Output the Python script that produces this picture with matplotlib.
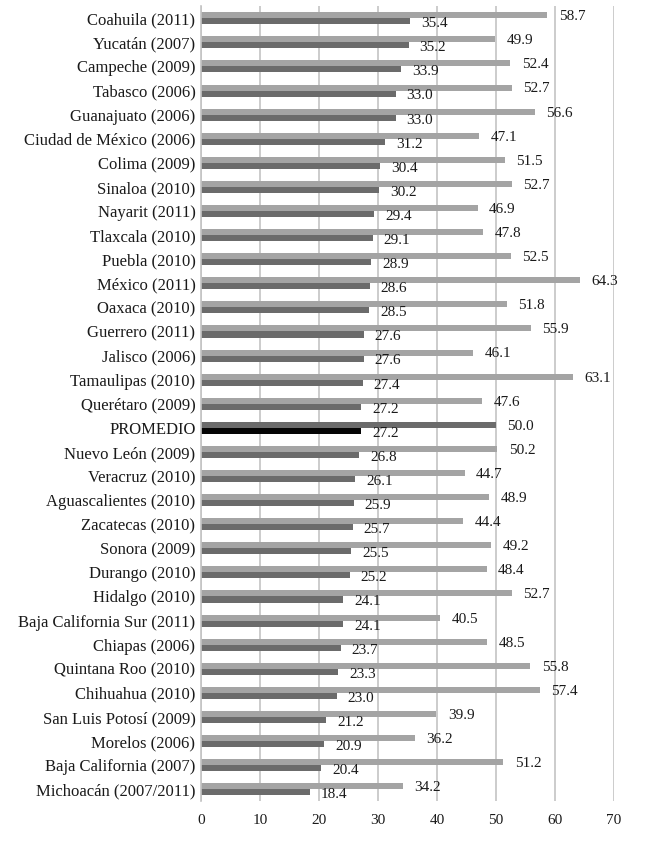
import matplotlib
matplotlib.use('Agg')

import numpy as np
import matplotlib.pyplot as plt

states = ["Coahuila (2011)", "Yucatán (2007)", "Campeche (2009)", "Tabasco (2006)",
          "Guanajuato (2006)", "Ciudad de México (2006)", "Colima (2009)", "Sinaloa (2010)",
          "Nayarit (2011)", "Tlaxcala (2010)", "Puebla (2010)", "México (2011)",
          "Oaxaca (2010)", "Guerrero (2011)", "Jalisco (2006)", "Tamaulipas (2010)",
          "Querétaro (2009)", "PROMEDIO", "Nuevo León (2009)", "Veracruz (2010)",
          "Aguascalientes (2010)", "Zacatecas (2010)", "Sonora (2009)", "Durango (2010)",
          "Hidalgo (2010)", "Baja California Sur (2011)", "Chiapas (2006)",
          "Quintana Roo (2010)", "Chihuahua (2010)", "San Luis Potosí (2009)",
          "Morelos (2006)", "Baja California (2007)", "Michoacán (2007/2011)"]

upper_vals = [58.7, 49.9, 52.4, 52.7, 56.6, 47.1, 51.5, 52.7, 46.9, 47.8, 52.5, 64.3,
              51.8, 55.9, 46.1, 63.1, 47.6, 50.0, 50.2, 44.7, 48.9, 44.4, 49.2, 48.4,
              52.7, 40.5, 48.5, 55.8, 57.4, 39.9, 36.2, 51.2, 34.2]

lower_vals = [35.4, 35.2, 33.9, 33.0, 33.0, 31.2, 30.4, 30.2, 29.4, 29.1, 28.9, 28.6,
              28.5, 27.6, 27.6, 27.4, 27.2, 27.2, 26.8, 26.1, 25.9, 25.7, 25.5, 25.2,
              24.1, 24.1, 23.7, 23.3, 23.0, 21.2, 20.9, 20.4, 18.4]

xticks = [0, 10, 20, 30, 40, 50, 60, 70]

plt.rcParams['font.family'] = ['Liberation Serif', 'DejaVu Serif']

fig = plt.figure(figsize=(6.5, 8.44), dpi=100)
ax = fig.add_axes([0.3092, 0.0509, 0.6354, 0.942])

y = np.arange(len(states))
upper_colors = ['#6b6b6b' if s == 'PROMEDIO' else '#a4a4a4' for s in states]
lower_colors = ['#050505' if s == 'PROMEDIO' else '#6b6b6b' for s in states]

h = 0.25
ax.barh(y - 0.125, upper_vals, height=h, color=upper_colors, zorder=2)
ax.barh(y + 0.125, lower_vals, height=h, color=lower_colors, zorder=2)

# value labels, baseline placed just under each bar
for i in range(len(states)):
    ax.text(upper_vals[i] + 1.95, y[i] + 0.08, f"{upper_vals[i]:.1f}", va='baseline',
            ha='left', fontsize=11, color='#1a1a1a')
    ax.text(lower_vals[i] + 1.85, y[i] + 0.37, f"{lower_vals[i]:.1f}", va='baseline',
            ha='left', fontsize=11, color='#1a1a1a')

ax.set_xlim(0, 70)
ax.set_ylim(32.49, -0.51)
ax.set_xticks(xticks)
ax.set_yticks(y)
ax.set_yticklabels(states, fontsize=12)
ax.tick_params(axis='both', length=0, colors='#1a1a1a')
ax.tick_params(axis='x', labelsize=11, pad=9)
ax.tick_params(axis='y', pad=4)

ax.grid(axis='x', color='#c4c4c4', linewidth=1.2, zorder=0)
ax.set_axisbelow(True)
for side in ['top', 'right', 'bottom']:
    ax.spines[side].set_visible(False)
ax.spines['left'].set_color('#c4c4c4')
ax.spines['left'].set_linewidth(1.2)

plt.savefig('out.png', dpi=100)
plt.close()
